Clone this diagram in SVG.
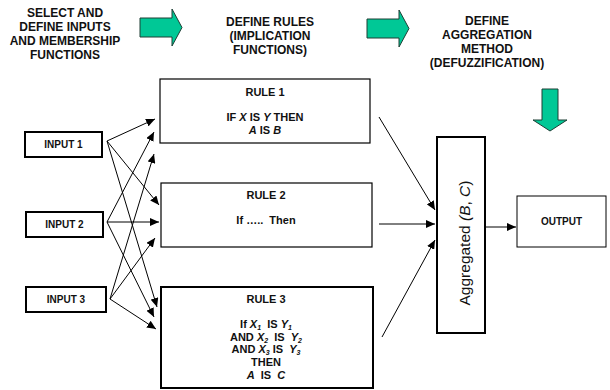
<svg xmlns="http://www.w3.org/2000/svg" width="610" height="390" viewBox="0 0 610 390">
<defs>
<marker id="ah" markerUnits="userSpaceOnUse" markerWidth="10" markerHeight="8" refX="9" refY="4" orient="auto">
<path d="M0,0 L9,4 L0,8 Z" fill="#000"/>
</marker>
<style>
.hd{font-family:"Liberation Sans",Arial,sans-serif;font-size:12px;font-weight:bold;text-anchor:middle;fill:#111}
.t{font-family:"Liberation Sans",Arial,sans-serif;font-size:10px;font-weight:bold;text-anchor:middle;fill:#111}
.r{font-family:"Liberation Sans",Arial,sans-serif;font-size:11px;font-weight:bold;text-anchor:middle;fill:#111}
.i{font-style:italic}
.box{fill:#fff;stroke:#000}
.cn line{stroke:#000;stroke-width:1;marker-end:url(#ah)}
.green{fill:#00C896;stroke:#1f3f35;stroke-width:1}
</style>
</defs>
<rect width="610" height="390" fill="#fff"/>

<g id="header1">
<text class="hd" x="65" y="17">SELECT AND</text>
<text class="hd" x="65" y="31">DEFINE INPUTS</text>
<text class="hd" x="65" y="45">AND MEMBERSHIP</text>
<text class="hd" x="65" y="59">FUNCTIONS</text>
</g>
<g id="header2">
<text class="hd" x="270" y="26">DEFINE RULES</text>
<text class="hd" x="270" y="40">(IMPLICATION</text>
<text class="hd" x="270" y="54">FUNCTIONS)</text>
</g>
<g id="header3">
<text class="hd" x="487" y="25">DEFINE</text>
<text class="hd" x="487" y="39">AGGREGATION</text>
<text class="hd" x="487" y="53">METHOD</text>
<text class="hd" x="487" y="67">(DEFUZZIFICATION)</text>
</g>
<g id="greenArrows">
<path class="green" d="M140,18 L172,18 L172,9 L182,27.5 L172,46 L172,37 L140,37 Z"/>
<path class="green" d="M367,19 L399,19 L399,10 L409,28.5 L399,47 L399,38 L367,38 Z"/>
<path class="green" d="M542,89 L558,89 L558,120 L567,120 L550,131 L533,120 L542,120 Z"/>
</g>

<g id="input1">
<rect class="box" x="25" y="132" width="77" height="25" stroke-width="2"/>
<text class="t" x="63.5" y="148">INPUT 1</text>
</g>
<g id="input2">
<rect class="box" x="26" y="212" width="77" height="25" stroke-width="2"/>
<text class="t" x="64.5" y="228">INPUT 2</text>
</g>
<g id="input3">
<rect class="box" x="26" y="287" width="80" height="25" stroke-width="2"/>
<text class="t" x="66" y="303">INPUT 3</text>
</g>

<g id="rule1">
<rect class="box" x="160" y="79" width="210" height="64" stroke-width="1.2"/>
<text class="r" x="265" y="96">RULE 1</text>
<text class="r" x="265" y="121">IF <tspan class="i">X</tspan>  IS <tspan class="i">Y</tspan> THEN</text>
<text class="r" x="265" y="134"><tspan class="i">A</tspan> IS <tspan class="i">B</tspan></text>
</g>
<g id="rule2">
<rect class="box" x="161" y="183" width="211" height="64" stroke-width="1.2"/>
<text class="r" x="266" y="199">RULE 2</text>
<text class="r" x="266" y="224" xml:space="preserve">If …..  Then</text>
</g>
<g id="rule3">
<rect class="box" x="161" y="287" width="212" height="101" stroke-width="2"/>
<text class="r" x="266" y="303">RULE 3</text>
<text class="r" x="266" y="328" xml:space="preserve">If <tspan class="i">X</tspan><tspan class="i" font-size="7" dy="2">1</tspan><tspan dy="-2">  IS </tspan><tspan class="i">Y</tspan><tspan class="i" font-size="7" dy="2">1</tspan></text>
<text class="r" x="266" y="340.5" xml:space="preserve">AND <tspan class="i">X</tspan><tspan class="i" font-size="7" dy="2">2</tspan><tspan dy="-2">  IS  </tspan><tspan class="i">Y</tspan><tspan class="i" font-size="7" dy="2">2</tspan></text>
<text class="r" x="266" y="353" xml:space="preserve">AND <tspan class="i">X</tspan><tspan class="i" font-size="7" dy="2">3</tspan><tspan dy="-2"> IS  </tspan><tspan class="i">Y</tspan><tspan class="i" font-size="7" dy="2">3</tspan></text>
<text class="r" x="266" y="366">THEN</text>
<text class="r" x="266" y="378.5" xml:space="preserve"><tspan class="i">A</tspan>  IS  <tspan class="i">C</tspan></text>
</g>

<g id="aggregated">
<rect class="box" x="437" y="137" width="48" height="196" stroke-width="2"/>
<text transform="translate(465,243) rotate(-90)" text-anchor="middle" dy="0.35em" font-family="Liberation Sans, Arial, sans-serif" font-size="15.5" fill="#111">Aggregated <tspan font-style="italic">(B</tspan>, <tspan font-style="italic">C</tspan>)</text>
</g>
<g id="output">
<rect class="box" x="517" y="196" width="89" height="51" stroke-width="1"/>
<text class="t" x="561.5" y="225">OUTPUT</text>
</g>

<g id="connectors" class="cn">
<line x1="107" y1="141" x2="155" y2="119"/>
<line x1="107" y1="141" x2="159" y2="205"/>
<line x1="107" y1="141" x2="157" y2="307"/>
<line x1="107" y1="222" x2="154" y2="132"/>
<line x1="107" y1="222" x2="159" y2="222"/>
<line x1="107" y1="222" x2="154" y2="317"/>
<line x1="110" y1="299" x2="154" y2="154"/>
<line x1="110" y1="299" x2="155" y2="238"/>
<line x1="110" y1="299" x2="156" y2="329"/>
<line x1="379" y1="117" x2="435" y2="210"/>
<line x1="379" y1="224" x2="435" y2="224"/>
<line x1="382" y1="337" x2="435" y2="240"/>
<line x1="485" y1="227" x2="516" y2="227"/>
</g>
</svg>
